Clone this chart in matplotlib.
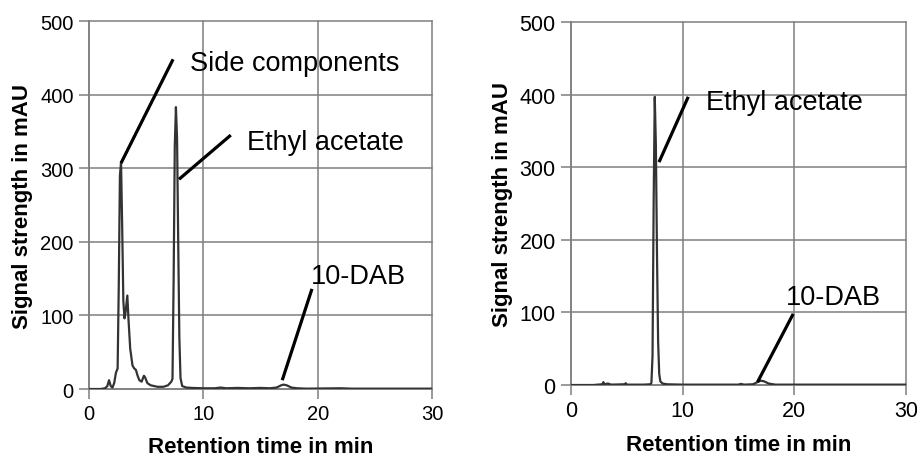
import matplotlib.pyplot as plt

plt.rcParams['font.family'] = ['Liberation Sans', 'DejaVu Sans']

# chromatogramm links (vor der reinigung)
t_links = [0, 1.0, 1.4, 1.6, 1.75, 1.9, 2.05, 2.2, 2.35, 2.5, 2.6, 2.7, 2.8, 2.9, 3.0,
           3.1, 3.2, 3.35, 3.45, 3.6, 3.8, 3.95, 4.1, 4.25, 4.4, 4.6, 4.8, 4.9, 5.1,
           5.4, 6.0, 6.5, 6.9, 7.2, 7.3, 7.4, 7.5, 7.6, 7.7, 7.8, 7.9, 8.0,
           8.15, 8.5, 9.0, 10.0, 11.0, 11.5, 12.0, 13.0, 14.0, 15.0, 15.8, 16.4, 16.8,
           17.0, 17.3, 17.7, 18.2, 19.0, 22.0, 23.0, 26.0, 30.0]
s_links = [0, 0, 1, 4, 12, 4, 2, 8, 22, 28, 140, 290, 308, 220, 120,
           96, 105, 127, 95, 55, 32, 28, 26, 18, 12, 10, 18, 16, 8,
           5, 3, 3, 5, 10, 14, 150, 330, 383, 340, 200, 70, 15,
           4, 2, 1.5, 1, 1, 2, 1, 1.5, 1, 1.5, 1, 2, 5,
           6, 5, 2, 1, 0.5, 1, 0.5, 0.5, 0.5]

# chromatogramm rechts (nach der reinigung)
t_rechts = [0, 2.0, 2.8, 2.9, 3.0, 3.3, 3.6, 4.8, 4.9, 5.0, 6.5, 7.1, 7.2, 7.3, 7.4,
            7.5, 7.6, 7.7, 7.8, 7.9, 8.0, 8.2, 8.6, 10, 12, 15, 15.2, 15.5, 16.3,
            16.7, 17.0, 17.3, 17.7, 18.3, 20, 23, 30]
s_rechts = [0, 0, 1, 4, 1, 2, 0.5, 1, 2.5, 0.5, 0.5, 1, 3, 40, 250,
            397, 330, 180, 60, 15, 5, 2, 1, 0.5, 0.5, 0.5, 1.5, 0.5, 1,
            4, 6, 5, 2, 0.5, 0.5, 0.5, 0.5]

# beschriftungen: text, linie von (x0,y0) nach (x1,y1), textposition
notas_links = [
    ('Side components', (2.8, 307), (7.35, 448), (8.8, 443)),
    ('Ethyl acetate', (7.87, 285), (12.4, 345), (13.8, 336)),
    ('10-DAB', (16.9, 12), (19.5, 136), (19.4, 154)),
]
notas_rechts = [
    ('Ethyl acetate', (7.88, 307), (10.5, 397), (12.1, 390)),
    ('10-DAB', (16.7, 4), (19.9, 98), (19.25, 121)),
]

fig = plt.figure(figsize=(9.17, 4.56), dpi=100)
ax1 = fig.add_axes([0.0971, 0.1447, 0.374, 0.807])
ax2 = fig.add_axes([0.6227, 0.1535, 0.3653, 0.796])

cinza = '#7f7f7f'
for ax, t, s, notas, fs in [(ax1, t_links, s_links, notas_links, 14.5),
                            (ax2, t_rechts, s_rechts, notas_rechts, 15.5)]:
    ax.plot(t, s, color='#333333', lw=1.6, zorder=3)
    for txt, p0, p1, pt in notas:
        ax.plot([p0[0], p1[0]], [p0[1], p1[1]], color='black', lw=2.3,
                solid_capstyle='butt', zorder=4)
        ax.text(pt[0], pt[1], txt, fontsize=19.5, va='center', ha='left', zorder=5)
    ax.set_xlim(0, 30)
    ax.set_ylim(0, 500)
    ax.set_xticks([0, 10, 20, 30])
    ax.set_yticks([0, 100, 200, 300, 400, 500])
    ax.grid(True, color=cinza, lw=1.1)
    ax.set_axisbelow(True)
    for lado in ['top', 'right']:
        ax.spines[lado].set_visible(False)
    for lado in ['left', 'bottom']:
        ax.spines[lado].set_color(cinza)
        ax.spines[lado].set_linewidth(1.1)
    ax.tick_params(colors=cinza, length=7, width=1.1, labelcolor='black',
                   labelsize=fs, pad=4)
    for linha in ax.get_xgridlines() + ax.get_ygridlines():
        linha.set_clip_on(False)
    ax.set_xlabel('Retention time in min', fontsize=16, fontweight='bold', labelpad=9)
    ax.set_ylabel('Signal strength in mAU', fontsize=16, fontweight='bold', labelpad=5)

fig.savefig('out.png', dpi=100)
